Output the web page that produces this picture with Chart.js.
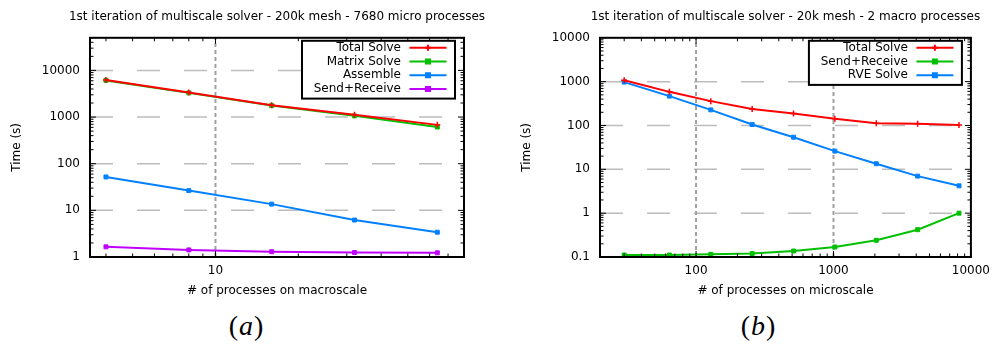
<!DOCTYPE html>
<html>
<head>
<meta charset="utf-8">
<script src="https://cdn.jsdelivr.net/npm/chart.js@4/dist/chart.umd.min.js"></script>
<style>
  body { margin: 0; background: #fff; width: 997px; height: 345px; position: relative; overflow: hidden; }
  .painel { position: absolute; top: 0; width: 497px; height: 300px; }
  #painel-a { left: 0; }
  #painel-b { left: 500px; }
  .rotulo { position: absolute; top: 309px; width: 70px; text-align: center; line-height: 34px;
            font-family: "Liberation Serif", "DejaVu Serif", serif; font-size: 28px; color: #000; }
  .rotulo i { padding: 0 1px; }
  #rotulo-a { left: 211px; }
  #rotulo-b { left: 723px; }
</style>
</head>
<body>
<canvas id="painel-a" class="painel" width="497" height="300"></canvas>
<canvas id="painel-b" class="painel" width="497" height="300"></canvas>
<div id="rotulo-a" class="rotulo">(<i>a</i>)</div>
<div id="rotulo-b" class="rotulo">(<i>b</i>)</div>

<script>
// macroscale run: 200k mesh, 7680 micro processes
const macroProcs = [4, 8, 16, 32, 64];
const macroTotal = [6200, 3350, 1800, 1120, 680];
const macroMatrix = [6100, 3300, 1760, 1060, 610];
const macroAssemble = [52, 26.5, 13.6, 6.2, 3.4];
const macroSendRecv = [1.65, 1.42, 1.3, 1.25, 1.23];
const macroXTicks = [10];
const macroYTicks = [1, 10, 100, 1000, 10000];

// microscale run: 20k mesh, 2 macro processes
const microProcs = [30, 64, 128, 256, 512, 1024, 2048, 4096, 8192];
const microTotal = [1080, 585, 359, 239, 188, 142, 113, 109, 102];
const microSendRecv = [0.111, 0.111, 0.115, 0.12, 0.137, 0.169, 0.24, 0.42, 1.0];
const microRve = [975, 467, 227, 105, 54, 26, 13.4, 7.0, 4.2];
const microXTicks = [100, 1000, 10000];
const microYTicks = [0.1, 1, 10, 100, 1000, 10000];

const VERMELHO = "#ff0000";
const VERDE = "#00c000";
const AZUL = "#0080ff";
const ROXO = "#c000ff";

Chart.defaults.font.family = '"DejaVu Sans", sans-serif';
Chart.defaults.font.size = 12;
Chart.defaults.color = "#000";

function serie(label, xs, ys, cor, estilo) {
  return {
    label: label,
    data: xs.map((x, i) => ({ x: x, y: ys[i] })),
    borderColor: cor,
    backgroundColor: cor,
    borderWidth: 2,
    pointStyle: estilo,
    pointRadius: estilo === "cross" ? 3 : 2.8,
    pointBorderWidth: estilo === "cross" ? 1.5 : 1,
    tension: 0,
  };
}

// valores 1..9 x 10^k dentro do intervalo, para os tiques menores
function tiquesLog(min, max) {
  const lista = [];
  for (let d = Math.floor(Math.log10(min)); d <= Math.ceil(Math.log10(max)); d++) {
    for (let m = 1; m <= 9; m++) {
      const v = m * Math.pow(10, d);
      if (v >= min * 0.999 && v <= max * 1.001) lista.push({ v: v, maior: m === 1 });
    }
  }
  return lista;
}

// grade tracejada, moldura, tiques para dentro, titulo e caixa de legenda
const moldura = {
  id: "moldura",
  beforeDatasetsDraw(chart) {
    const { ctx, chartArea: a, scales } = chart;
    ctx.save();
    ctx.beginPath();
    ctx.rect(a.left, a.top, a.right - a.left, a.bottom - a.top);
    ctx.clip();

    ctx.strokeStyle = "#bcbcbc";
    ctx.lineWidth = 1.5;
    ctx.setLineDash([23, 24]);
    scales.y.ticks.forEach((t) => {
      const py = scales.y.getPixelForValue(t.value);
      if (py < a.top + 2 || py > a.bottom - 2) return;
      ctx.beginPath();
      ctx.moveTo(a.left, py);
      ctx.lineTo(a.right, py);
      ctx.stroke();
    });

    ctx.strokeStyle = "#a0a0a0";
    ctx.lineWidth = 2;
    ctx.setLineDash([4, 3]);
    scales.x.ticks.forEach((t) => {
      const px = scales.x.getPixelForValue(t.value);
      if (px < a.left + 2 || px > a.right - 2) return;
      ctx.beginPath();
      ctx.moveTo(px, a.bottom);
      ctx.lineTo(px, a.top);
      ctx.stroke();
    });
    ctx.restore();
  },
  afterDatasetsDraw(chart, args, opts) {
    const { ctx, chartArea: a, scales } = chart;
    ctx.save();
    ctx.setLineDash([]);
    ctx.strokeStyle = "#000";
    ctx.lineWidth = 1;

    tiquesLog(scales.x.min, scales.x.max).forEach((t) => {
      const px = scales.x.getPixelForValue(t.v);
      const len = t.maior ? 6 : 3.5;
      ctx.beginPath();
      ctx.moveTo(px, a.bottom);
      ctx.lineTo(px, a.bottom - len);
      ctx.moveTo(px, a.top);
      ctx.lineTo(px, a.top + len);
      ctx.stroke();
    });
    tiquesLog(scales.y.min, scales.y.max).forEach((t) => {
      const py = scales.y.getPixelForValue(t.v);
      const len = t.maior ? 6 : 3.5;
      ctx.beginPath();
      ctx.moveTo(a.left, py);
      ctx.lineTo(a.left + len, py);
      ctx.moveTo(a.right, py);
      ctx.lineTo(a.right - len, py);
      ctx.stroke();
    });

    ctx.lineWidth = 2;
    ctx.strokeRect(a.left, a.top, a.right - a.left, a.bottom - a.top);

    // titulo centrado sobre a area do grafico
    ctx.fillStyle = "#000";
    ctx.font = '12px "DejaVu Sans", sans-serif';
    ctx.textAlign = "center";
    ctx.textBaseline = "middle";
    ctx.fillText(opts.titulo, (a.left + a.right) / 2, 17);

    // legenda no canto superior direito
    const sets = chart.data.datasets;
    const passo = 13.7;
    const caixaDir = a.right - 9;
    const caixaEsq = caixaDir - 153;
    const caixaTopo = a.top + 3;
    const altura = passo * sets.length + 3;
    ctx.fillStyle = "#fff";
    ctx.fillRect(caixaEsq, caixaTopo, caixaDir - caixaEsq, altura);
    ctx.strokeStyle = "#000";
    ctx.strokeRect(caixaEsq, caixaTopo, caixaDir - caixaEsq, altura);

    ctx.textAlign = "right";
    sets.forEach((ds, i) => {
      const yy = caixaTopo + 7 + i * passo;
      ctx.fillStyle = "#000";
      ctx.fillText(ds.label, caixaDir - 54, yy);
      ctx.strokeStyle = ds.borderColor;
      ctx.lineWidth = 2;
      ctx.beginPath();
      ctx.moveTo(caixaDir - 45.5, yy);
      ctx.lineTo(caixaDir - 8.5, yy);
      ctx.stroke();
      ctx.fillStyle = ds.backgroundColor;
      Chart.helpers.drawPoint(ctx, {
        pointStyle: ds.pointStyle,
        radius: ds.pointRadius,
        borderWidth: ds.pointBorderWidth,
        rotation: 0,
      }, caixaDir - 27, yy);
    });
    ctx.restore();
  },
};

function grafico(id, cfg) {
  return new Chart(document.getElementById(id), {
    type: "line",
    data: { datasets: cfg.datasets },
    plugins: [moldura],
    options: {
      responsive: false,
      animation: false,
      layout: { padding: { left: 0, right: cfg.dir, top: 37.8, bottom: 0 } },
      plugins: {
        legend: { display: false },
        tooltip: { enabled: false },
        title: { display: false },
        moldura: { titulo: cfg.titulo },
      },
      scales: {
        x: {
          type: "logarithmic",
          min: cfg.xMin,
          max: cfg.xMax,
          afterBuildTicks: (s) => { s.ticks = cfg.xTicks.map((v) => ({ value: v })); },
          afterFit: (s) => { s.height = 43; },
          grid: { display: false, drawTicks: false },
          border: { display: false },
          ticks: { autoSkip: false, maxRotation: 0, padding: 7, callback: (v) => String(v) },
          title: { display: true, text: cfg.xTitulo, color: "#000", padding: { top: 0, bottom: 2 } },
        },
        y: {
          type: "logarithmic",
          min: cfg.yMin,
          max: cfg.yMax,
          afterBuildTicks: (s) => { s.ticks = cfg.yTicks.map((v) => ({ value: v })); },
          afterFit: (s) => { s.width = cfg.esq; },
          grid: { display: false, drawTicks: false },
          border: { display: false },
          ticks: { autoSkip: false, padding: 10, callback: (v) => String(v) },
          title: { display: true, text: "Time (s)", color: "#000", padding: { top: cfg.yTitPad, bottom: 0 } },
        },
      },
    },
  });
}

grafico("painel-a", {
  titulo: "1st iteration of multiscale solver - 200k mesh - 7680 micro processes",
  xTitulo: "# of processes on macroscale",
  xMin: 3.5, xMax: 80, yMin: 1, yMax: 50000,
  xTicks: macroXTicks, yTicks: macroYTicks,
  esq: 90, dir: 33, yTitPad: 10,
  datasets: [
    serie("Total Solve", macroProcs, macroTotal, VERMELHO, "cross"),
    serie("Matrix Solve", macroProcs, macroMatrix, VERDE, "rect"),
    serie("Assemble", macroProcs, macroAssemble, AZUL, "rect"),
    serie("Send+Receive", macroProcs, macroSendRecv, ROXO, "rect"),
  ],
});

grafico("painel-b", {
  titulo: "1st iteration of multiscale solver - 20k mesh - 2 macro processes",
  xTitulo: "# of processes on microscale",
  xMin: 20, xMax: 10000, yMin: 0.1, yMax: 10000,
  xTicks: microXTicks, yTicks: microYTicks,
  esq: 100, dir: 22, yTitPad: 20,
  datasets: [
    serie("Total Solve", microProcs, microTotal, VERMELHO, "cross"),
    serie("Send+Receive", microProcs, microSendRecv, VERDE, "rect"),
    serie("RVE Solve", microProcs, microRve, AZUL, "rect"),
  ],
});
</script>
</body>
</html>
